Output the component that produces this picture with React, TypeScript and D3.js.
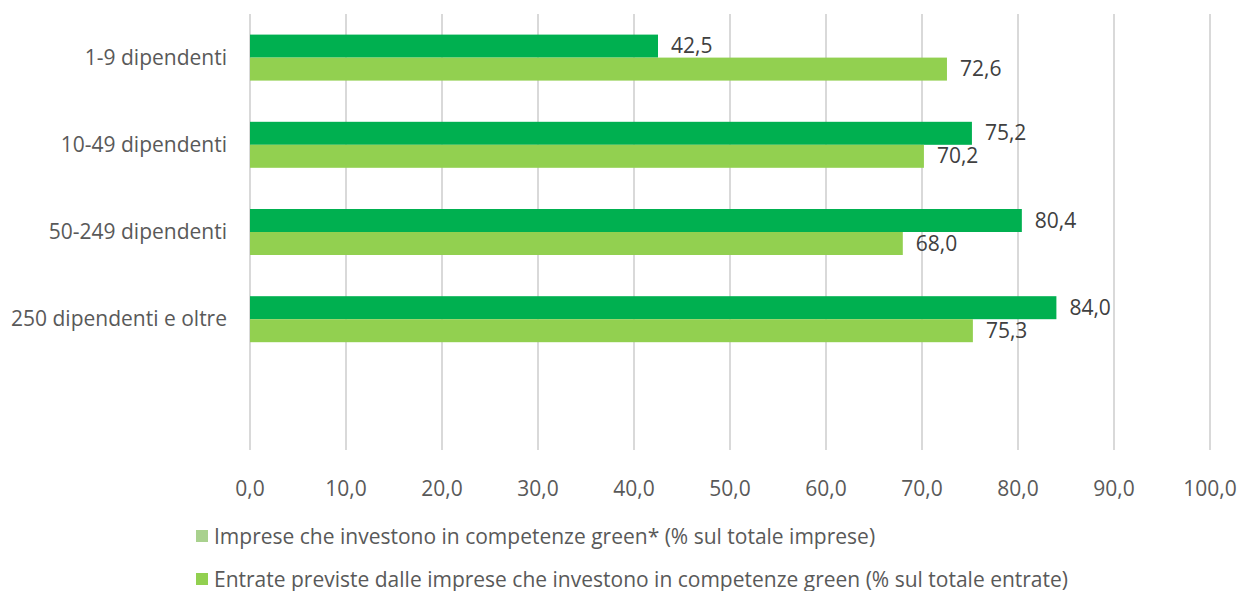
import React from "react";
import * as d3 from "d3";

const categories = ["1-9 dipendenti", "10-49 dipendenti", "50-249 dipendenti", "250 dipendenti e oltre"];
const entrateValues = [42.5, 75.2, 80.4, 84.0];
const impreseValues = [72.6, 70.2, 68.0, 75.3];
const xTicks = [0, 10, 20, 30, 40, 50, 60, 70, 80, 90, 100];
const legendLabels = [
  "Imprese che investono in competenze green* (% sul totale imprese)",
  "Entrate previste dalle imprese che investono in competenze green (% sul totale entrate)",
];

const W = 1244;
const H = 591;
const FONT = "'Open Sans', sans-serif";
const FS = 21;
const fmt = (v: number) => v.toFixed(1).replace(".", ",");

export default function App() {
  const x = d3.scaleLinear().domain([0, 100]).range([250, 1210]);
  const y = d3.scaleBand<string>().domain([...categories, "__empty"]).range([14, 450]).paddingInner(0).paddingOuter(0);
  const bw = y.bandwidth();
  const barH = 23;
  const darkColor = "#00b050";
  const lightColor = "#92d050";
  const legendColors = ["#a9d18e", "#92d050"];

  return (
    <svg width={W} height={H} style={{ position: "absolute", left: 0, top: 0, background: "#fff" }}>
      {xTicks.map((t) => (
        <g key={t}>
          <line x1={x(t)} x2={x(t)} y1={14} y2={450} stroke="#d9d9d9" strokeWidth={2} />
          <text x={x(t)} y={496} textAnchor="middle" fontFamily={FONT} fontSize={FS} fill="#595959">
            {fmt(t)}
          </text>
        </g>
      ))}
      {categories.map((c, i) => {
        const cy = (y(c) as number) + bw / 2;
        return (
          <g key={c}>
            <text x={227} y={cy + 7} textAnchor="end" fontFamily={FONT} fontSize={FS} fill="#595959">
              {c}
            </text>
            <rect x={x(0)} y={cy - barH} width={x(entrateValues[i]) - x(0)} height={barH} fill={darkColor} />
            <rect x={x(0)} y={cy} width={x(impreseValues[i]) - x(0)} height={barH} fill={lightColor} />
            <text x={x(entrateValues[i]) + 13} y={cy - barH / 2 + 7} fontFamily={FONT} fontSize={FS} fill="#404040">
              {fmt(entrateValues[i])}
            </text>
            <text x={x(impreseValues[i]) + 13} y={cy + barH / 2 + 7} fontFamily={FONT} fontSize={FS} fill="#404040">
              {fmt(impreseValues[i])}
            </text>
          </g>
        );
      })}
      {legendLabels.map((l, i) => (
        <g key={l}>
          <rect x={196} y={530 + i * 43} width={12} height={12} fill={legendColors[i]} />
          <text x={214} y={544 + i * 43} fontFamily={FONT} fontSize={FS} fill="#595959">
            {l}
          </text>
        </g>
      ))}
    </svg>
  );
}
